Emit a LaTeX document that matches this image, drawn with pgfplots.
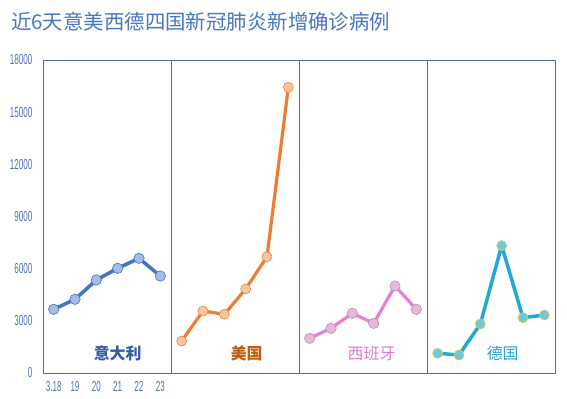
\documentclass[border=0pt]{standalone}
\usepackage{pgfplots}
\pgfplotsset{compat=1.18}
\usepackage{fontspec}
\setmainfont{Noto Sans CJK SC}
\newfontfamily\narrow[FakeStretch=0.56]{Liberation Sans}
\definecolor{ttl}{RGB}{72,118,192}
\definecolor{tick}{RGB}{80,115,185}
\definecolor{frame}{RGB}{75,110,165}
\definecolor{itline}{RGB}{68,114,196}
\definecolor{itfill}{RGB}{165,188,228}
\definecolor{itlab}{RGB}{52,92,165}
\definecolor{usline}{RGB}{237,125,49}
\definecolor{usfill}{RGB}{248,198,165}
\definecolor{uslab}{RGB}{197,90,17}
\definecolor{esline}{RGB}{228,130,210}
\definecolor{esfill}{RGB}{234,182,222}
\definecolor{esedge}{RGB}{175,150,170}
\definecolor{eslab}{RGB}{228,120,205}
\definecolor{deline}{RGB}{32,170,210}
\definecolor{defill}{RGB}{110,200,228}
\definecolor{deedge}{RGB}{220,205,50}
\definecolor{delab}{RGB}{40,165,205}
\begin{document}
\begin{tikzpicture}
\useasboundingbox (0,0) rectangle (567bp,399bp);
\pgfplotsset{panel/.style={scale only axis, width=128bp, height=313bp,
  xmin=-0.5, xmax=5.5, ymin=0, ymax=18000,
  axis line style={draw=frame, line width=0.7pt},
  xtick=\empty, ytick=\empty, major tick length=0pt,
  scaled y ticks=false,
  anchor=south west, clip=false}}
\begin{axis}[panel, at={(43bp,26bp)},
  ytick={0,3000,6000,9000,12000,15000,18000},
  yticklabels={0,3000,6000,9000,12000,15000,18000},
  xtick={0,1,2,3,4,5}, xticklabels={3.18,19,20,21,22,23},
  tick label style={font=\narrow\fontsize{14.5}{14.5}\selectfont, text=tick},
  yticklabel style={xshift=-7bp},
  xticklabel style={yshift=-5bp}]
\addplot[color=itline, line width=3.5bp, mark=*, mark size=5.2bp,
  mark options={fill=itfill, draw=itline, line width=0.6bp}]
  coordinates {(0,3663) (1,4238) (2,5348) (3,6020) (4,6596) (5,5578)};
\node[text=itlab, font=\bfseries\fontsize{16}{16}\selectfont] at (axis cs:3,1150) {意大利};
\end{axis}
\begin{axis}[panel, at={(171bp,26bp)}]
\addplot[color=usline, line width=3.2bp, mark=*, mark size=5bp,
  mark options={fill=usfill, draw=usline, line width=0.6bp}]
  coordinates {(0,1840) (1,3565) (2,3376) (3,4831) (4,6688) (5,16430)};
\node[text=uslab, font=\bfseries\fontsize{16}{16}\selectfont] at (axis cs:3.05,1150) {美国};
\end{axis}
\begin{axis}[panel, at={(299bp,26bp)}]
\addplot[color=esline, line width=3.2bp, mark=*, mark size=5.2bp,
  mark options={fill=esfill, draw=esedge, line width=0.6bp}]
  coordinates {(0,1995) (1,2570) (2,3433) (3,2858) (4,5003) (5,3663)};
\node[text=eslab, font=\fontsize{16}{16}\selectfont] at (axis cs:2.9,1150) {西班牙};
\end{axis}
\begin{axis}[panel, at={(427bp,26bp)}]
\addplot[color=deline, line width=3.5bp, mark=*, mark size=5bp,
  mark options={fill=defill, draw=deedge, line width=0.7bp}]
  coordinates {(0,1133) (1,1035) (2,2818) (3,7321) (4,3180) (5,3335)};
\node[text=delab, font=\fontsize{16}{16}\selectfont] at (axis cs:3.05,1150) {德国};
\end{axis}
\node[anchor=west, text=ttl, font=\fontsize{20.5}{20.5}\selectfont, inner sep=0pt] at (11bp,377bp) {近6天意美西德四国新冠肺炎新增确诊病例};
\end{tikzpicture}
\end{document}
